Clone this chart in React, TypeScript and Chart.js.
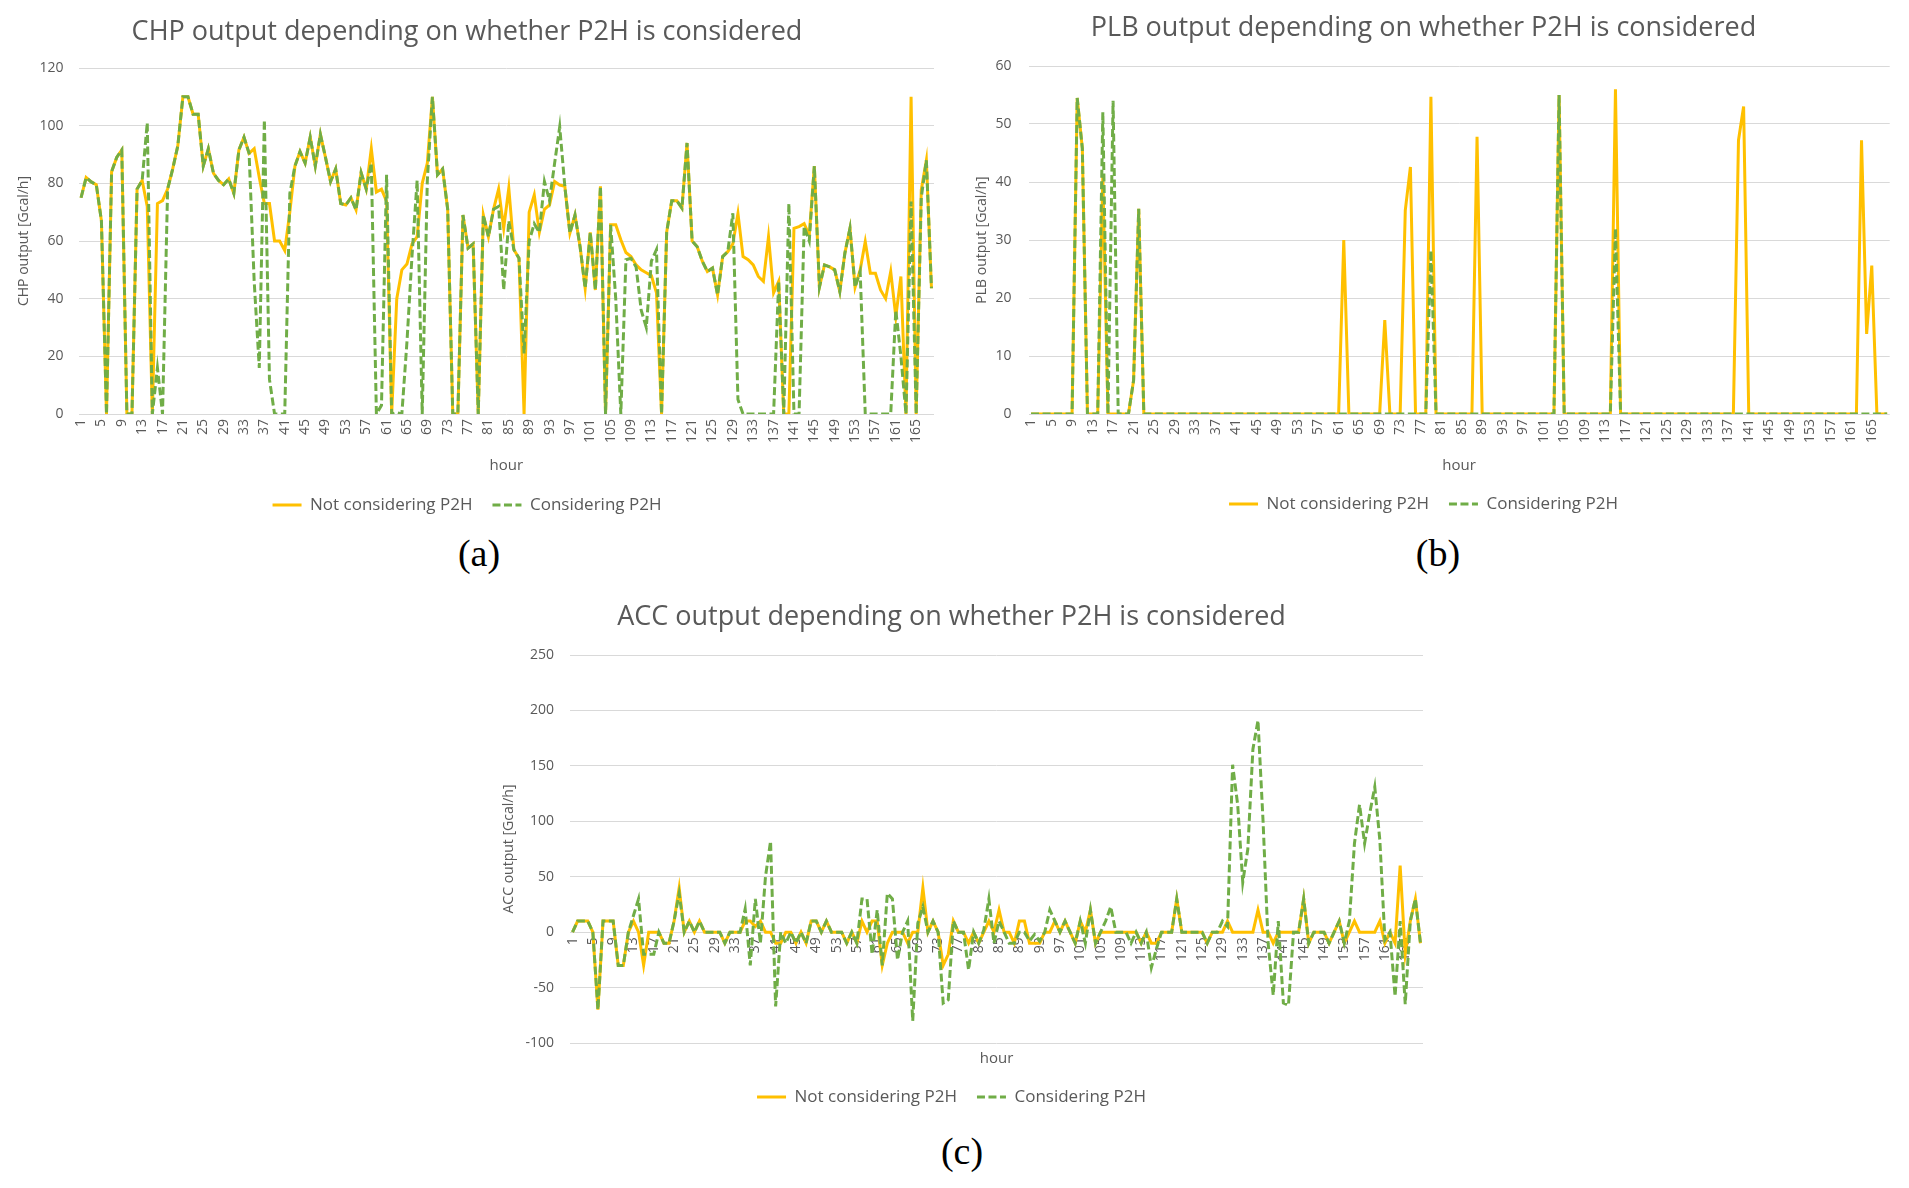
import React, { useEffect, useRef } from "react";
import { Chart, registerables } from "chart.js";

Chart.register(...registerables);

const FONT = "'Open Sans', 'Noto Sans', sans-serif";
const TEXT = "#595959";
const GRID = "#D9D9D9";
const YELLOW = "#FFC000";
const GREEN = "#70AD47";
const GREEN_DASH = [8, 3.5];

// hour categories 1..168
const hours: string[] = Array.from({ length: 168 }, (_, i) => String(i + 1));

const seriesNoP2H = "Not considering P2H";
const seriesP2H = "Considering P2H";

// (a) CHP output [Gcal/h]
const chpNoP2H = [
  75, 82, 80.5, 79.5, 67, 0, 84, 89, 91.6, 0,
  0, 78, 81, 72, 0, 73, 74, 78, 85, 93,
  110, 110, 104, 104, 86, 92, 83.5, 81, 79.5, 81.5,
  76.5, 91.6, 96, 90.4, 92, 82, 73, 73, 60, 60,
  56.7, 70, 86, 91, 87, 96, 86, 97, 89, 80.6,
  85, 73, 72.5, 75, 70.8, 83.7, 78, 92, 77, 78,
  73.7, 0, 40, 50, 52, 59, 61.5, 80, 87, 110,
  83, 85, 71, 0, 0, 69, 57.5, 59, 0, 69,
  61.5, 71, 78, 64.4, 78.3, 57, 54, 0, 70, 76,
  63, 71, 72.5, 80.6, 79.4, 79, 62.7, 69, 58, 43.6,
  63, 43, 79, 0, 65.6, 65.6, 60.4, 56, 54.6, 51.7,
  50, 49, 48, 42, 0, 63, 74, 74, 71.4, 94,
  60, 58, 53, 49.4, 50.6, 41.3, 54.6, 56.3, 59, 69.6,
  54.6, 53.5, 51.7, 47.7, 46, 61.5, 42, 46, 0, 0,
  64.4, 65, 66, 62, 86, 44, 51.7, 51, 50, 42.5,
  55.8, 64.4, 44, 50, 59.8, 48.8, 48.8, 43, 40, 49.4,
  33.8, 47.7, 0, 110, 0, 77.7, 88, 43.6,
];
const chpP2H = [
  75, 82, 80.5, 79.5, 67, 0, 84, 89, 91.6, 0,
  0, 78, 81, 101, 0, 16, 0, 78, 85, 93,
  110, 110, 104, 104, 86, 92, 83.5, 81, 79.5, 81.5,
  76.5, 91.6, 96, 90.4, 46, 16, 102, 12, 0, 0,
  0, 76.5, 86, 91, 87, 96, 86, 97, 89, 80.6,
  85, 73, 72.5, 75, 70.8, 83.7, 78, 87, 0, 3,
  83, 0, 0.5, 0, 25, 55, 81, 0, 81, 110,
  83, 85, 71, 0, 0, 69, 57.5, 59, 0, 69,
  61.5, 71, 72, 43, 67, 57, 54, 21, 60, 66,
  63, 80.6, 74, 87, 99.6, 79, 62.7, 69, 58, 43.6,
  63, 43, 79, 0, 65.6, 40, 0, 53.5, 54, 51,
  36, 30, 53, 57, 0, 63, 74, 74, 71.4, 94,
  60, 58, 53, 49.4, 50.6, 41.3, 54.6, 56.3, 69.6, 5,
  0, 0, 0, 0, 0, 0, 0, 46, 0, 73,
  0, 0, 65, 60, 86, 44, 51.7, 51, 50, 42.5,
  55.8, 64.4, 44, 49.4, 0, 0, 0, 0, 0, 0,
  36, 20, 0, 73.7, 0, 75, 88, 43.6,
];

// (b) PLB output [Gcal/h]
const plbNoP2H = [
  0, 0, 0, 0, 0, 0, 0, 0, 0, 54.5,
  45.8, 0, 0, 0, 41, 0, 0, 0, 0, 0,
  5.8, 35.4, 0, 0, 0, 0, 0, 0, 0, 0,
  0, 0, 0, 0, 0, 0, 0, 0, 0, 0,
  0, 0, 0, 0, 0, 0, 0, 0, 0, 0,
  0, 0, 0, 0, 0, 0, 0, 0, 0, 0,
  0, 30, 0, 0, 0, 0, 0, 0, 0, 16.2,
  0, 0, 0, 35.1, 42.6, 0, 0, 0, 54.7, 0,
  0, 0, 0, 0, 0, 0, 0, 47.8, 0, 0,
  0, 0, 0, 0, 0, 0, 0, 0, 0, 0,
  0, 0, 0, 55, 0, 0, 0, 0, 0, 0,
  0, 0, 0, 0, 56, 0, 0, 0, 0, 0,
  0, 0, 0, 0, 0, 0, 0, 0, 0, 0,
  0, 0, 0, 0, 0, 0, 0, 0, 47.2, 53,
  0, 0, 0, 0, 0, 0, 0, 0, 0, 0,
  0, 0, 0, 0, 0, 0, 0, 0, 0, 0,
  0, 0, 47.2, 13.8, 25.6, 0, 0, 0,
];
const plbP2H = [
  0, 0, 0, 0, 0, 0, 0, 0, 0, 54.5,
  45.8, 0, 0, 0, 52, 0, 54, 0, 0, 0,
  5.8, 35.4, 0, 0, 0, 0, 0, 0, 0, 0,
  0, 0, 0, 0, 0, 0, 0, 0, 0, 0,
  0, 0, 0, 0, 0, 0, 0, 0, 0, 0,
  0, 0, 0, 0, 0, 0, 0, 0, 0, 0,
  0, 0, 0, 0, 0, 0, 0, 0, 0, 0,
  0, 0, 0, 0, 0, 0, 0, 0, 28.2, 0,
  0, 0, 0, 0, 0, 0, 0, 0, 0, 0,
  0, 0, 0, 0, 0, 0, 0, 0, 0, 0,
  0, 0, 0, 55, 0, 0, 0, 0, 0, 0,
  0, 0, 0, 0, 32, 0, 0, 0, 0, 0,
  0, 0, 0, 0, 0, 0, 0, 0, 0, 0,
  0, 0, 0, 0, 0, 0, 0, 0, 0, 0,
  0, 0, 0, 0, 0, 0, 0, 0, 0, 0,
  0, 0, 0, 0, 0, 0, 0, 0, 0, 0,
  0, 0, 0, 0, 0, 0, 0, 0,
];

// (c) ACC output [Gcal/h]
const accNoP2H = [
  0, 10, 10, 10, 0, -70, 10, 10, 10, -30,
  -30, 0, 10, 0, -30, 0, 0, 0, -10, -10,
  10, 40, 0, 10, 0, 10, 0, 0, 0, 0,
  -10, 0, 0, 0, 10, 10, 5, 10, 0, 0,
  -10, -10, 0, 0, -10, 0, -10, 10, 10, 0,
  10, 0, 0, 0, -10, 0, -10, 10, 0, 10,
  10, -30, -10, 0, 0, 0, -10, 0, 0, 40,
  0, 10, 0, -30, -20, 10, 0, 0, -10, 0,
  -10, 0, 10, 0, 20, 0, 0, -10, 10, 10,
  -10, -10, -10, 0, 0, 10, 0, 10, 0, -10,
  10, 0, 20, -10, 0, 0, 0, 0, 0, 0,
  0, 0, -10, 0, -10, -10, 0, 0, 0, 30,
  0, 0, 0, 0, 0, -10, 0, 0, 0, 10,
  0, 0, 0, 0, 0, 20, 0, 0, -10, 0,
  0, 0, 0, 0, 30, -10, 0, 0, 0, -10,
  0, 10, -10, 0, 10, 0, 0, 0, 0, 10,
  -10, 0, -10, 60, -20, 10, 30, -10,
];
const accP2H = [
  0, 10, 10, 10, 0, -70, 10, 10, 10, -30,
  -30, 0, 15, 30, -20, -20, -20, 0, -10, -10,
  10, 35, 0, 10, 0, 10, 0, 0, 0, 0,
  -10, 0, 0, 0, 21, -30, 30, -10, 50, 82,
  -67, 0, -10, 0, -10, 0, -10, 10, 10, 0,
  10, 0, 0, 0, -10, 0, -10, 30, 30, -20,
  20, -30, 35, 30, -25, 0, 10, -80, 8, 23,
  0, 10, 0, -64, -61, 10, 0, 0, -34, 0,
  -10, 2, 30, -10, 10, 0, -10, -10, 0, 0,
  -8, -2, -8, 0, 20, 10, 0, 10, 0, -10,
  10, -10, 20, -10, 0, 10, 23, 0, 0, 0,
  -10, 0, -10, 0, -32, -15, 0, 0, 0, 30,
  0, 0, 0, 0, 0, -10, 0, 0, 10, 5,
  151, 115, 45, 75, 165, 191, 100, -10, -57, 10,
  -64, -66, 0, 0, 30, -10, 0, 0, 0, -10,
  0, 10, -10, 10, 80, 115, 80, 107, 131, 83,
  -7, 0, -58, 10, -65, 10, 30, -10,
];

type Spec = {
  title: string;
  yTitle: string;
  yMin: number;
  yMax: number;
  yStep: number;
  noP2H: number[];
  p2h: number[];
  box: { left: number; top: number; width: number; height: number };
  yAxisWidth: number;
  yTickPad: number;
  yTitlePad: number;
  titlePadTop: number;
  titlePadBottom: number;
  padRight: number;
  padBottom: number;
  xAxisHeight: number;
  hourPadBottom: number;
  zeroAxis: boolean;
};

const SPECS: Spec[] = [
  {
    title: "CHP output depending on whether P2H is considered",
    yTitle: "CHP output [Gcal/h]",
    yMin: 0, yMax: 120, yStep: 20,
    noP2H: chpNoP2H, p2h: chpP2H,
    box: { left: 0, top: 0, width: 955, height: 530 },
    yAxisWidth: 78.5, yTickPad: 15, yTitlePad: 16,
    titlePadTop: 15.8, titlePadBottom: 19.8,
    padRight: 21, padBottom: 6.5,
    xAxisHeight: 62.5, hourPadBottom: 1.5,
    zeroAxis: false,
  },
  {
    title: "PLB output depending on whether P2H is considered",
    yTitle: "PLB output [Gcal/h]",
    yMin: 0, yMax: 60, yStep: 10,
    noP2H: plbNoP2H, p2h: plbP2H,
    box: { left: 955, top: 0, width: 954, height: 530 },
    yAxisWidth: 73.5, yTickPad: 17, yTitlePad: 18.6,
    titlePadTop: 12.4, titlePadBottom: 21.2,
    padRight: 17, padBottom: 7.5,
    xAxisHeight: 61.5, hourPadBottom: 0.5,
    zeroAxis: false,
  },
  {
    title: "ACC output depending on whether P2H is considered",
    yTitle: "ACC output [Gcal/h]",
    yMin: -100, yMax: 250, yStep: 50,
    noP2H: accNoP2H, p2h: accP2H,
    box: { left: 480, top: 590, width: 965, height: 540 },
    yAxisWidth: 90, yTickPad: 16, yTitlePad: 20.6,
    titlePadTop: 10.8, titlePadBottom: 21.8,
    padRight: 22, padBottom: 14.5,
    xAxisHeight: 25.5, hourPadBottom: 0.5,
    zeroAxis: true,
  },
];

const PANEL_LABELS = [
  { text: "(a)", x: 479, y: 553 },
  { text: "(b)", x: 1438, y: 553 },
  { text: "(c)", x: 962, y: 1151 },
];

function buildConfig(s: Spec): any {
  const tickFont = { family: FONT, size: 14 };
  const xTicks = {
    autoSkip: false,
    maxRotation: 90,
    minRotation: 90,
    color: TEXT,
    font: tickFont,
    padding: 5,
    callback: function (_v: any, i: number) {
      return i % 4 === 0 ? hours[i] : "";
    },
  };
  const hourTitle = {
    display: true,
    text: "hour",
    color: TEXT,
    font: { family: FONT, size: 15 },
    padding: { top: 0, bottom: s.hourPadBottom },
  };
  const scales: any = {
    y: {
      min: s.yMin,
      max: s.yMax,
      ticks: { stepSize: s.yStep, color: TEXT, font: tickFont, padding: s.yTickPad },
      grid: { color: GRID, lineWidth: 1, drawTicks: false },
      border: { display: false },
      title: {
        display: true,
        text: s.yTitle,
        color: TEXT,
        font: { family: FONT, size: 14 },
        padding: { top: s.yTitlePad, bottom: 0 },
      },
      afterFit: (sc: any) => {
        sc.width = s.yAxisWidth;
      },
    },
  };
  if (s.zeroAxis) {
    scales.x = {
      type: "category",
      offset: true,
      position: { y: 0 },
      grid: { display: false, drawTicks: false },
      border: { display: false },
      ticks: xTicks,
      title: { display: false },
    };
    scales.xt = {
      type: "category",
      offset: true,
      position: "bottom",
      grid: { display: false, drawTicks: false },
      border: { display: false },
      ticks: { display: false },
      title: hourTitle,
      afterFit: (sc: any) => {
        sc.height = s.xAxisHeight;
      },
    };
  } else {
    scales.x = {
      type: "category",
      offset: true,
      position: "bottom",
      grid: { display: false, drawTicks: false },
      border: { display: false },
      ticks: xTicks,
      title: hourTitle,
      afterFit: (sc: any) => {
        sc.height = s.xAxisHeight;
      },
    };
  }

  return {
    type: "line",
    data: {
      labels: hours,
      datasets: [
        {
          label: seriesNoP2H,
          data: s.noP2H,
          xAxisID: "x",
          yAxisID: "y",
          borderColor: YELLOW,
          backgroundColor: YELLOW,
          borderWidth: 3,
          pointRadius: 0,
          pointHoverRadius: 0,
          tension: 0,
          fill: false,
          order: 2,
        },
        {
          label: seriesP2H,
          data: s.p2h,
          xAxisID: "x",
          yAxisID: "y",
          borderColor: GREEN,
          backgroundColor: GREEN,
          borderWidth: 3,
          borderDash: GREEN_DASH,
          pointRadius: 0,
          pointHoverRadius: 0,
          tension: 0,
          fill: false,
          order: 1,
        },
      ],
    },
    options: {
      animation: false,
      responsive: true,
      maintainAspectRatio: false,
      events: [],
      layout: { padding: { left: 0, right: s.padRight, top: 0, bottom: s.padBottom } },
      scales,
      plugins: {
        tooltip: { enabled: false },
        title: {
          display: true,
          text: s.title,
          color: TEXT,
          font: { family: FONT, size: 27, weight: "normal" },
          padding: { top: s.titlePadTop, bottom: s.titlePadBottom },
        },
        legend: {
          display: true,
          position: "bottom",
          labels: {
            usePointStyle: true,
            pointStyle: "line",
            pointStyleWidth: 29,
            color: TEXT,
            font: { family: FONT, size: 17 },
            padding: 20,
            generateLabels: (chart: any) =>
              chart.data.datasets.map((ds: any, i: number) => ({
                text: ds.label,
                fillStyle: ds.borderColor,
                strokeStyle: ds.borderColor,
                fontColor: TEXT,
                lineWidth: 3,
                lineDash: ds.borderDash || [],
                lineDashOffset: 0,
                lineCap: "butt",
                pointStyle: "line",
                hidden: false,
                datasetIndex: i,
              })),
          },
        },
      },
    },
  };
}

export default function App() {
  const r0 = useRef<HTMLCanvasElement>(null);
  const r1 = useRef<HTMLCanvasElement>(null);
  const r2 = useRef<HTMLCanvasElement>(null);
  const refs = [r0, r1, r2];

  useEffect(() => {
    const charts = SPECS.map((s, i) => new Chart(refs[i].current as HTMLCanvasElement, buildConfig(s)));
    return () => charts.forEach((c) => c.destroy());
  }, []);

  return (
    <div
      style={{
        position: "fixed",
        left: 0,
        top: 0,
        width: 1909,
        height: 1188,
        background: "#ffffff",
        overflow: "hidden",
      }}
    >
      {SPECS.map((s, i) => (
        <div
          key={i}
          style={{
            position: "absolute",
            left: s.box.left,
            top: s.box.top,
            width: s.box.width,
            height: s.box.height,
          }}
        >
          <canvas ref={refs[i]} />
        </div>
      ))}
      {PANEL_LABELS.map((p) => (
        <div
          key={p.text}
          style={{
            position: "absolute",
            left: p.x,
            top: p.y,
            transform: "translate(-50%, -50%)",
            fontFamily: "'Liberation Serif', 'Times New Roman', serif",
            fontSize: 38,
            color: "#000000",
            lineHeight: 1,
            whiteSpace: "nowrap",
          }}
        >
          {p.text}
        </div>
      ))}
    </div>
  );
}
